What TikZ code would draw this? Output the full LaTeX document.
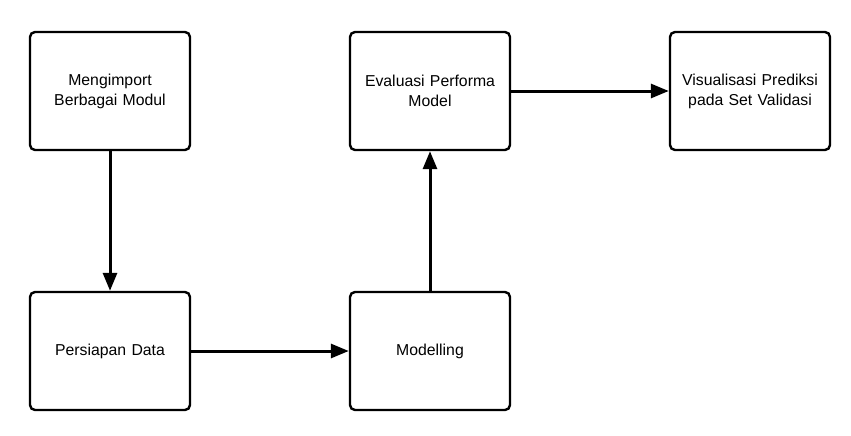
\documentclass[tikz,border=0pt]{standalone}
\usepackage{fontspec}
\setmainfont{Liberation Sans}
\usetikzlibrary{arrows.meta}

\begin{document}
\begin{tikzpicture}[x=1pt,y=-1pt]
    \tikzstyle{every node}+=[inner sep=0pt]
    \tikzstyle{stepbox}=[draw=black, fill=white, line width=2.4pt, rounded corners=5pt,
        minimum width=160pt, minimum height=118pt, text width=150pt, align=center,
        font=\fontsize{15.8}{20}\selectfont]
    \tikzstyle{flow}=[draw=black, line width=3pt, -{Triangle[length=18pt,width=14pt]}]
    \useasboundingbox (0,0) rectangle (851,436);
    \node [stepbox] (impor) at (110,91) {Mengimport\\Berbagai Modul};
    \node [stepbox] (persiapan) at (110,351) {Persiapan Data};
    \node [stepbox] (model) at (430,351) {Modelling};
    \node [stepbox] (evaluasi) at (430,91) {Evaluasi Performa\\Model};
    \node [stepbox] (visual) at (750,91) {Visualisasi Prediksi\\pada Set Validasi};
    \draw [flow] (impor.south) -- (persiapan.north);
    \draw [flow] (persiapan.east) -- (model.west);
    \draw [flow] (model.north) -- (evaluasi.south);
    \draw [flow] (evaluasi.east) -- (visual.west);
\end{tikzpicture}
\end{document}
